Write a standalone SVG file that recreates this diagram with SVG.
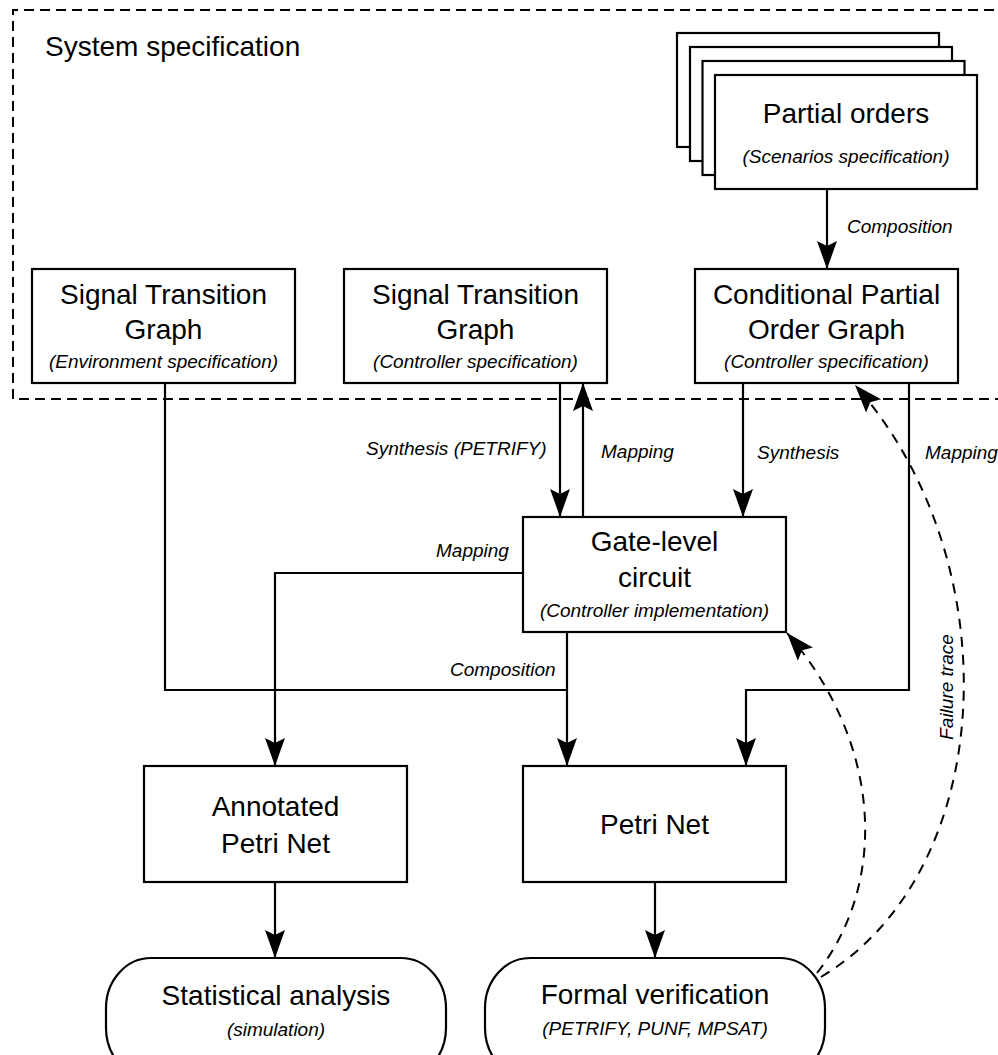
<svg xmlns="http://www.w3.org/2000/svg" width="998" height="1055" viewBox="0 0 998 1055">
<defs>
<style>
.box{fill:#fff;stroke:#000;stroke-width:2.2}
.ln{fill:none;stroke:#000;stroke-width:2.2}
.dash{fill:none;stroke:#000;stroke-width:2;stroke-dasharray:10,8}
.frame{fill:none;stroke:#000;stroke-width:2;stroke-dasharray:10,6}
text{font-family:"Liberation Sans",Arial,Helvetica,sans-serif;fill:#000}
.t{font-size:28px;text-anchor:middle}
.s{font-size:19px;font-style:italic;text-anchor:middle}
.l{font-size:19px;font-style:italic}
</style>
<marker id="ah" markerUnits="userSpaceOnUse" markerWidth="30" markerHeight="24" viewBox="-28 -11 30 22" refX="0" refY="0" orient="auto" overflow="visible">
<path d="M0,0 L-28,-10 L-23,0 L-28,10 Z" fill="#000"/>
</marker>
</defs>
<rect x="0" y="0" width="998" height="1055" fill="#fff"/>

<g id="system-spec">
<path class="frame" d="M1010,10 H13 V399 H1010"/>
<text x="45" y="56" style="font-size:28px">System specification</text>
</g>

<g id="partial-orders">
<rect class="box" x="677" y="33" width="262" height="114"/>
<rect class="box" x="690" y="47" width="262" height="114"/>
<rect class="box" x="702.5" y="61" width="262" height="114"/>
<rect class="box" x="715" y="75" width="262" height="114"/>
<text class="t" x="846" y="123">Partial orders</text>
<text class="s" x="846" y="163">(Scenarios specification)</text>
</g>

<g id="stg-env">
<rect class="box" x="32" y="269" width="263" height="114"/>
<text class="t" x="163.5" y="304">Signal Transition</text>
<text class="t" x="163.5" y="339">Graph</text>
<text class="s" x="163.5" y="368">(Environment specification)</text>
</g>

<g id="stg-ctrl">
<rect class="box" x="344" y="269" width="263" height="114"/>
<text class="t" x="475.5" y="304">Signal Transition</text>
<text class="t" x="475.5" y="339">Graph</text>
<text class="s" x="475.5" y="368">(Controller specification)</text>
</g>

<g id="cpog">
<rect class="box" x="695" y="269" width="263" height="114"/>
<text class="t" x="826.5" y="304">Conditional Partial</text>
<text class="t" x="826.5" y="339">Order Graph</text>
<text class="s" x="826.5" y="368">(Controller specification)</text>
</g>

<g id="gate-level">
<rect class="box" x="523" y="517" width="263" height="115"/>
<text class="t" x="654.5" y="551">Gate-level</text>
<text class="t" x="654.5" y="587">circuit</text>
<text class="s" x="654.5" y="617">(Controller implementation)</text>
</g>

<g id="annotated-pn">
<rect class="box" x="144" y="766" width="263" height="116"/>
<text class="t" x="275.5" y="816">Annotated</text>
<text class="t" x="275.5" y="853">Petri Net</text>
</g>

<g id="petri-net">
<rect class="box" x="523" y="766" width="263" height="116"/>
<text class="t" x="654.5" y="834">Petri Net</text>
</g>

<g id="statistical">
<rect class="box" x="106" y="958" width="340" height="120" rx="45" ry="50"/>
<text class="t" x="276" y="1005">Statistical analysis</text>
<text class="s" x="276" y="1036">(simulation)</text>
</g>

<g id="formal">
<rect class="box" x="485" y="958" width="340" height="120" rx="45" ry="50"/>
<text class="t" x="655" y="1004">Formal verification</text>
<text class="s" x="655" y="1035">(PETRIFY, PUNF, MPSAT)</text>
</g>

<g id="connectors">
<path class="ln" d="M827,189 V269" marker-end="url(#ah)"/>
<path class="ln" d="M560,383 V517" marker-end="url(#ah)"/>
<path class="ln" d="M583,517 V383" marker-end="url(#ah)"/>
<path class="ln" d="M743,383 V517" marker-end="url(#ah)"/>
<path class="ln" d="M909,383 V690 H746 V766" marker-end="url(#ah)"/>
<path class="ln" d="M165,383 V690 H567"/>
<path class="ln" d="M567,632 V766" marker-end="url(#ah)"/>
<path class="ln" d="M523,573 H275 V766" marker-end="url(#ah)"/>
<path class="ln" d="M275,882 V958" marker-end="url(#ah)"/>
<path class="ln" d="M655,882 V958" marker-end="url(#ah)"/>
<path class="dash" d="M817,973 C890,880 880,740 787,633" marker-end="url(#ah)"/>
<path class="dash" d="M821,977 C1000,870 1010,560 855,385" marker-end="url(#ah)"/>
<text class="l" x="847" y="233">Composition</text>
<text class="l" x="366" y="455">Synthesis (PETRIFY)</text>
<text class="l" x="601" y="458">Mapping</text>
<text class="l" x="757" y="459">Synthesis</text>
<text class="l" x="925" y="459">Mapping</text>
<text class="l" x="436" y="557">Mapping</text>
<text class="l" x="450" y="676">Composition</text>
<text class="l" transform="translate(953,687) rotate(-90)" text-anchor="middle">Failure trace</text>
</g>
</svg>
